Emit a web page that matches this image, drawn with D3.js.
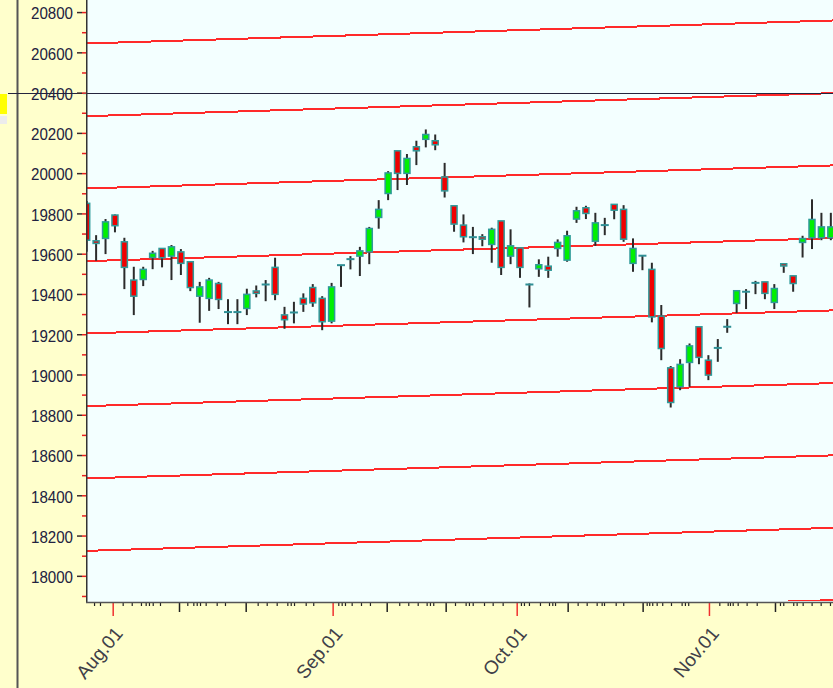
<!DOCTYPE html>
<html>
<head>
<meta charset="utf-8">
<script src="https://cdn.jsdelivr.net/npm/d3@7"></script>
<style>
  html, body { margin: 0; padding: 0; background: #ffffcc; }
  svg { display: block; }
</style>
</head>
<body>
<svg id="chart" width="833" height="688"></svg>
<script>
// ---- data (trading-day index = array position) ----
const opens  = [19850,19664,19676,19792,19659,19469,19472,19581,19626,19588,19609,19560,19389,19378,19452,19310,19310,19328,19415,19447,19532,19296,19308,19378,19432,19378,19265,19543,19573,19588,19609,19780,19899,20111,19999,20131,20168,20161,19981,19838,19742,19682,19684,19646,19763,19588,19629,19447,19525,19538,19626,19568,19772,19828,19662,19742,19845,19820,19552,19590,19522,19290,19033,18939,19060,19237,19071,19132,19237,19353,19411,19455,19460,19358,19550,19490,19656,19679,19679,19679];
const highs  = [19862,19692,19772,19795,19679,19535,19535,19614,19626,19643,19623,19560,19460,19480,19460,19374,19374,19426,19442,19469,19580,19336,19361,19403,19449,19389,19455,19543,19588,19634,19733,19866,20010,20111,20095,20161,20217,20192,20051,19838,19795,19733,19697,19729,19763,19721,19629,19452,19572,19585,19671,19714,19833,19838,19803,19778,19845,19841,19676,19590,19555,19345,19042,19076,19154,19237,19096,19176,19275,19416,19424,19465,19460,19449,19550,19490,19689,19870,19803,19803];
const lows   = [19609,19565,19598,19706,19424,19295,19439,19523,19532,19469,19494,19414,19257,19316,19325,19250,19250,19295,19383,19364,19369,19227,19254,19311,19336,19220,19254,19435,19522,19489,19548,19724,19866,19916,19941,20040,20128,20114,19879,19709,19656,19598,19637,19555,19494,19548,19480,19333,19485,19480,19585,19560,19753,19772,19639,19692,19771,19659,19510,19518,19259,19071,18836,18922,18939,19051,18972,19063,19207,19306,19325,19399,19374,19325,19505,19411,19581,19623,19667,19667];
const closes = [19667,19651,19758,19739,19532,19389,19522,19602,19580,19634,19552,19432,19435,19469,19373,19310,19310,19398,19403,19447,19398,19272,19308,19350,19356,19262,19435,19543,19573,19614,19725,19820,20001,19999,20073,20111,20192,20141,19912,19747,19684,19682,19672,19721,19532,19639,19532,19447,19545,19518,19656,19689,19813,19800,19753,19742,19816,19672,19626,19590,19286,19129,18861,19050,19142,19085,18997,19132,19237,19416,19411,19455,19403,19427,19539,19452,19675,19770,19733,19733];

// parallel channel lines: value at first bar and at last bar
const channelStart = [20644,20283,19924,19563,19204,18843,18484,18124,17765];
const channelEnd   = [20758,20397,20038,19677,19318,18957,18598,18238,17879];

// y-axis tick values
const yMajorTicks = [18000,18200,18400,18600,18800,19000,19200,19400,19600,19800,20000,20200,20400,20600,20800];
const yMinorTicks = [17900,18000,18100,18200,18300,18400,18500,18600,18700,18800,18900,19000,19100,19200,19300,19400,19500,19600,19700,19800,19900,20000,20100,20200,20300,20400,20500,20600,20700,20800];

// x-axis ticks (in trading-day index units)
const monthTickPos   = [2.76, 26.11, 45.65, 66.06];
const monthTickLabel = ["Aug.01", "Sep.01", "Oct.01", "Nov.01"];
const weekTicks = [9.80, 16.88, 31.85, 38.11, 51.06, 59.02, 73.07];
const dayTicks = [0.78,1.41,3.82,4.78,5.76,6.26,6.61,7.01,7.78,10.68,11.32,11.68,12.03,12.63,13.80,14.68,
  18.15,19.11,20.17,21.30,21.66,22.01,23.25,24.05,26.71,27.07,27.42,28.13,29.12,30.07,
  33.18,34.14,35.14,36.09,36.44,36.79,39.10,40.23,40.58,40.98,42.18,43.10,44.16,
  46.10,46.42,46.95,48.12,49.08,49.43,49.72,52.12,53.08,54.14,54.67,54.92,56.16,56.96,
  59.45,59.72,60.04,60.51,61.10,62.03,63.16,63.51,63.86,67.16,68.05,68.29,68.58,69.11,70.06,71.13,
  73.60,73.95,75.01,75.37,76.01,76.96,77.92,78.91];

const crossValue = 20400;

// ---- layout ----
const svg = d3.select("#chart");
const W = 833, H = 688;
const plot = {left: 86, right: 833, top: 0, bottom: 602};

const x = d3.scaleLinear().domain([-0.074, 79.23]).range([plot.left, plot.right]);
const y = d3.scaleLinear().domain([17870, 20860]).range([plot.bottom, plot.top]);

// background
svg.append("rect").attr("width", W).attr("height", H).attr("fill", "#ffffcc");
svg.append("rect").attr("x", plot.left).attr("y", plot.top)
  .attr("width", plot.right - plot.left).attr("height", plot.bottom - plot.top)
  .attr("fill", "#f3ffff");

// left frame line
svg.append("line").attr("x1", 17.5).attr("x2", 17.5).attr("y1", 0).attr("y2", H)
  .attr("stroke", "#555").attr("stroke-width", 2);

// clip
svg.append("defs").append("clipPath").attr("id", "clip")
  .append("rect").attr("x", plot.left + 1).attr("y", plot.top)
  .attr("width", plot.right - plot.left).attr("height", plot.bottom - plot.top - 1);

const gPlot = svg.append("g").attr("clip-path", "url(#clip)");

// channel lines
const x0 = x.domain()[0], x1 = x.domain()[1];
channelStart.forEach((s, k) => {
  const e = channelEnd[k];
  const slope = (e - s) / (opens.length - 1);
  gPlot.append("line")
    .attr("x1", x(x0)).attr("y1", y(s + slope * x0))
    .attr("x2", x(x1)).attr("y2", y(s + slope * x1))
    .attr("stroke", "#ff2a2a").attr("stroke-width", 2)
    .attr("shape-rendering", "crispEdges");
});

// candles
const bars = d3.range(opens.length).map(i => ({i, o: opens[i], h: highs[i], l: lows[i], c: closes[i]}));
const bodyW = 6;
const gC = gPlot.append("g");
gC.selectAll("line.wick").data(bars).join("line").attr("class", "wick")
  .attr("x1", d => x(d.i)).attr("x2", d => x(d.i))
  .attr("y1", d => y(d.h)).attr("y2", d => y(d.l))
  .attr("stroke", "#2b2b2b").attr("stroke-width", 2);

gC.selectAll("rect.body").data(bars.filter(d => d.o !== d.c)).join("rect").attr("class", "body")
  .attr("x", d => x(d.i) - bodyW / 2)
  .attr("y", d => y(Math.max(d.o, d.c)))
  .attr("width", bodyW)
  .attr("height", d => Math.max(1, y(Math.min(d.o, d.c)) - y(Math.max(d.o, d.c))))
  .attr("fill", d => d.c > d.o ? "#00f000" : "#f00000")
  .attr("stroke", "#2f9a9a").attr("stroke-width", 1.5);

gC.selectAll("line.doji").data(bars.filter(d => d.o === d.c)).join("line").attr("class", "doji")
  .attr("x1", d => x(d.i) - 4).attr("x2", d => x(d.i) + 4)
  .attr("y1", d => y(d.o)).attr("y2", d => y(d.o))
  .attr("stroke", "#2f8f95").attr("stroke-width", 2);

// crosshair line at 20400
svg.append("line").attr("x1", 8).attr("x2", W)
  .attr("y1", Math.round(y(crossValue)) + 0.5).attr("y2", Math.round(y(crossValue)) + 0.5)
  .attr("stroke", "#24243e").attr("stroke-width", 1);
svg.append("line").attr("x1", 83).attr("x2", 87)
  .attr("y1", Math.round(y(crossValue)) + 0.5).attr("y2", Math.round(y(crossValue)) + 0.5)
  .attr("stroke", "#22dddd").attr("stroke-width", 1.5);

// small marker boxes at left
svg.append("rect").attr("x", 0).attr("y", Math.round(y(crossValue)) + 1).attr("width", 7).attr("height", 20).attr("fill", "#ffff00");
svg.append("rect").attr("x", 0).attr("y", Math.round(y(crossValue)) + 23).attr("width", 7).attr("height", 8).attr("fill", "#ececec");

// ---- y axis ----
const yMinorAxis = d3.axisLeft(y).tickValues(yMinorTicks).tickSize(4).tickFormat("");
const gyMinor = svg.append("g").attr("transform", `translate(${plot.left},0)`).call(yMinorAxis);
gyMinor.select(".domain").remove();
gyMinor.selectAll(".tick line").attr("stroke", "#e82020").attr("stroke-width", 1.5);

const yMajorAxis = d3.axisLeft(y).tickValues(yMajorTicks).tickSize(9).tickPadding(4).tickFormat(d3.format("d"));
const gyMajor = svg.append("g").attr("transform", `translate(${plot.left},0)`).call(yMajorAxis);
gyMajor.select(".domain").remove();
gyMajor.selectAll(".tick line").attr("x2", -4).attr("x1", -9)
  .attr("stroke", "#3a2a2a").attr("stroke-width", 1.5);
gyMajor.selectAll(".tick text")
  .attr("font-family", "'Liberation Sans', Arial, sans-serif")
  .attr("font-size", 17)
  .attr("fill", "#222240")
  .attr("dy", "0.4em")
  .attr("textLength", 42)
  .attr("lengthAdjust", "spacingAndGlyphs");

// y axis line
svg.append("line").attr("x1", plot.left + 0.75).attr("x2", plot.left + 0.75)
  .attr("y1", 0).attr("y2", plot.bottom + 1)
  .attr("stroke", "#333").attr("stroke-width", 1.5);

// ---- x axis ----
const gx = svg.append("g").attr("transform", `translate(0,${plot.bottom})`);
const dayAxis = d3.axisBottom(x).tickValues(dayTicks).tickSize(4).tickFormat("");
gx.call(dayAxis);
gx.select(".domain").remove();
gx.selectAll(".tick line").attr("stroke", "#222").attr("stroke-width", 1.2);

const gxw = svg.append("g").attr("transform", `translate(0,${plot.bottom})`)
  .call(d3.axisBottom(x).tickValues(weekTicks).tickSize(10).tickFormat(""));
gxw.select(".domain").remove();
gxw.selectAll(".tick line").attr("stroke", "#222").attr("stroke-width", 1.5);

const gxm = svg.append("g").attr("transform", `translate(0,${plot.bottom})`)
  .call(d3.axisBottom(x).tickValues(monthTickPos).tickSize(14).tickFormat(""));
gxm.select(".domain").remove();
gxm.selectAll(".tick line").attr("stroke", "#f03030").attr("stroke-width", 1.5);

svg.append("line").attr("x1", plot.left).attr("x2", plot.right)
  .attr("y1", plot.bottom + 0.5).attr("y2", plot.bottom + 0.5)
  .attr("stroke", "#555").attr("stroke-width", 1.5);

svg.append("g").selectAll("text").data(monthTickPos).join("text")
  .attr("transform", d => `translate(${x(d) + 11},${plot.bottom + 32}) rotate(-50)`)
  .attr("text-anchor", "end")
  .attr("font-family", "'Liberation Sans', Arial, sans-serif")
  .attr("font-size", 19)
  .attr("fill", "#404048")
  .text((d, k) => monthTickLabel[k]);
</script>
</body>
</html>
